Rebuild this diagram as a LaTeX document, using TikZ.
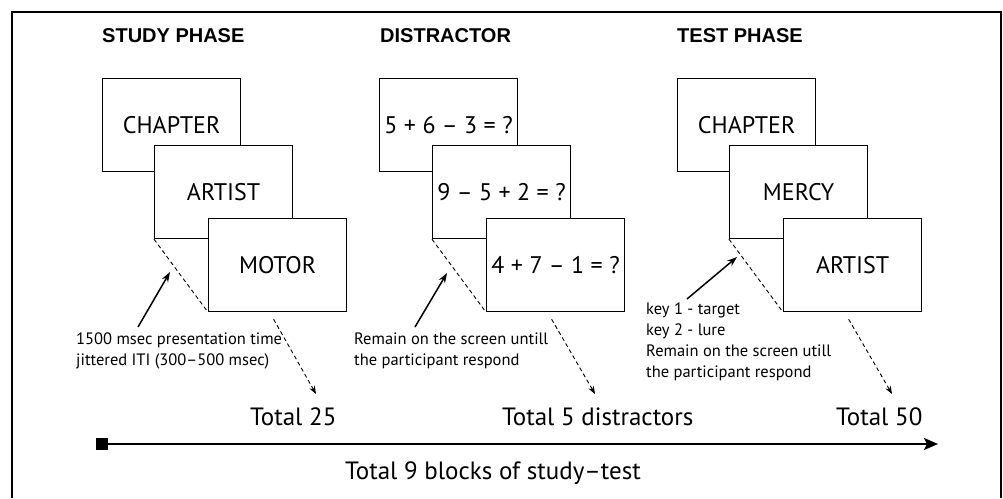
\documentclass[tikz,border=0pt]{standalone}
\usepackage{fontspec}
\setmainfont{PT Sans}
\newfontfamily\titlefont{Liberation Sans}
\usetikzlibrary{arrows.meta,calc}
\tikzset{
  card/.style={draw, line width=1.2pt, fill=white, minimum width=138pt, minimum height=93pt,
    anchor=north west, inner sep=0pt, font=\fontsize{24}{24}\selectfont},
  phase/.style={font=\titlefont\bfseries\fontsize{20}{20}\selectfont, anchor=west, inner sep=0pt},
  note/.style={font=\fontsize{16.5}{21}\selectfont, align=left, anchor=north west, inner sep=0pt},
  total/.style={font=\fontsize{25}{25}\selectfont, anchor=west, inner sep=0pt},
  link/.style={dashed, line width=0.9pt, dash pattern=on 4pt off 3pt},
  flow/.style={link, -{Stealth[length=8pt,width=6pt]}},
  pointer/.style={line width=1.5pt, -{Stealth[length=10pt,width=7pt]}}
}
\begin{document}
\begin{tikzpicture}[x=1pt,y=-1pt]
\useasboundingbox (0,0) rectangle (1003,498);
\draw[line width=2pt] (12,498) -- (12,12) -- (1001,12) -- (1001,498);

% STUDY PHASE
\node[phase] (t1) at (102,36) {STUDY PHASE};
\node[card] (s1) at (102,78) {CHAPTER};
\node[card] (s2) at (154,145) {ARTIST};
\node[card] (s3) at (208,218) {MOTOR};
\draw[link] (s2.south west) -- (s3.south west);
\node[note] (n1) at (76,333) {1500 msec presentation time\\jittered ITI (300–500 msec)};
\coordinate (n1a) at (138,327);
\coordinate (n1b) at (170,272);
\draw[pointer] (n1a) -- (n1b);
\node[total] (tot1) at (250,417) {Total 25};
\coordinate (f1a) at ($(s3.south)+(-4,7)$);
\coordinate (f1b) at (316,394);
\draw[flow] (f1a) -- (f1b);

% DISTRACTOR
\node[phase] (t2) at (380,36) {DISTRACTOR};
\node[card] (d1) at (379,78) {5 + 6 – 3 = ?};
\node[card] (d2) at (432,145) {9 – 5 + 2 = ?};
\node[card] (d3) at (486,218) {4 + 7 – 1 = ?};
\draw[link] (d2.south west) -- (d3.south west);
\node[note] (n2) at (354,333) {Remain on the screen untill\\the participant respond};
\coordinate (n2a) at (415,327);
\coordinate (n2b) at (447,273);
\draw[pointer] (n2a) -- (n2b);
\node[total] (tot2) at (502,417) {Total 5 distractors};
\coordinate (f2a) at ($(d3.south)+(-4,7)$);
\coordinate (f2b) at (595,394);
\draw[flow] (f2a) -- (f2b);

% TEST PHASE
\node[phase] (t3) at (677,36) {TEST PHASE};
\node[card] (e1) at (677,78) {CHAPTER};
\node[card] (e2) at (729,145) {MERCY};
\node[card] (e3) at (783,218) {ARTIST};
\draw[link] (e2.south west) -- (e3.south west);
\node[note] (n3) at (646,303) {key 1 - target\\key 2 - lure\\Remain on the screen utill\\the participant respond};
\coordinate (n3a) at (687,299);
\coordinate (n3b) at (737,257);
\draw[pointer] (n3a) -- (n3b);
\node[total] (tot3) at (836,417) {Total 50};
\coordinate (f3a) at ($(e3.south)+(-4,7)$);
\coordinate (f3b) at (892,394);
\draw[flow] (f3a) -- (f3b);

% timeline
\node[fill, minimum size=12pt, inner sep=0pt] (sq) at (102,444) {};
\coordinate (tend) at (938,444);
\draw[line width=2.5pt, -{Stealth[length=14pt,width=12pt,inset=3pt]}] (sq) -- (tend);
\node[font=\fontsize{25}{25}\selectfont, inner sep=0pt] (blocks) at (493,473) {Total 9 blocks of study–test};
\end{tikzpicture}
\end{document}
